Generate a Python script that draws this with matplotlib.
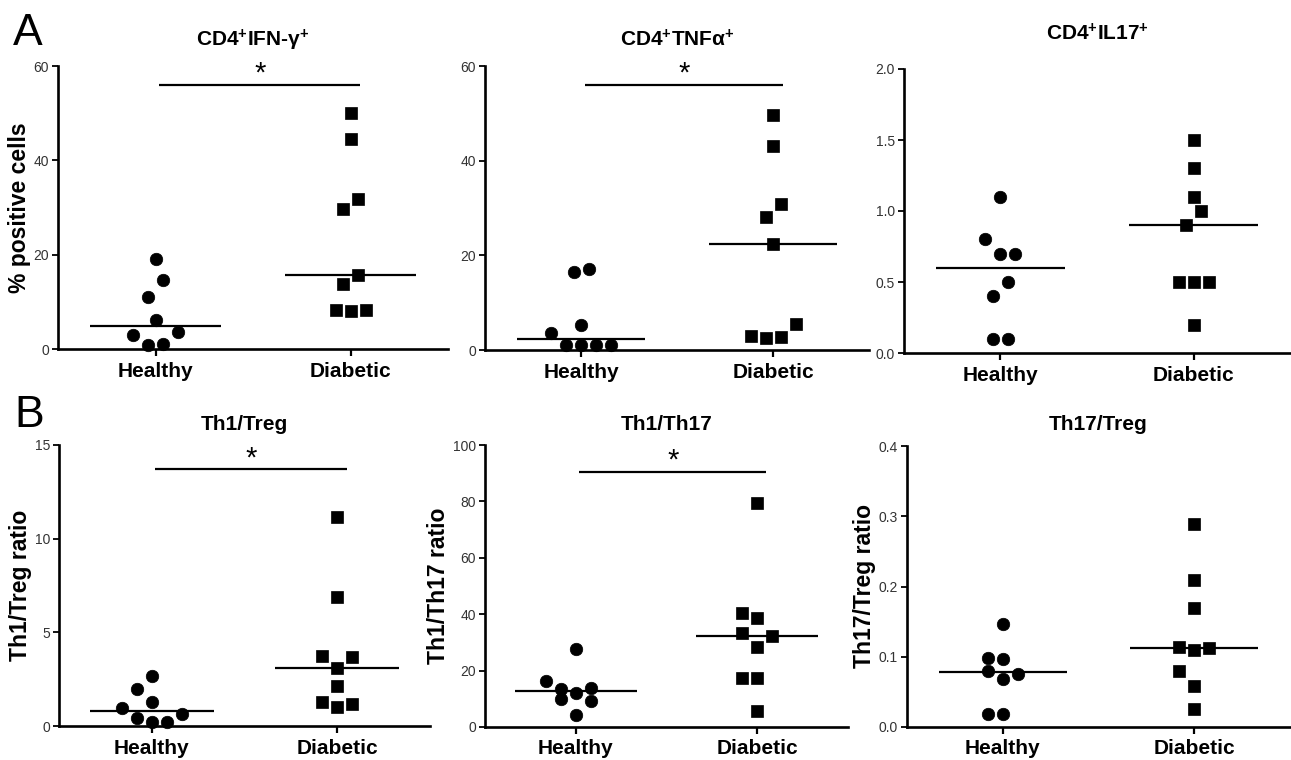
import numpy as np
import matplotlib
matplotlib.use("Agg")
import matplotlib.pyplot as plt

plt.rcParams['font.family'] = ['Liberation Sans', 'DejaVu Sans']
plt.rcParams['mathtext.fontset'] = 'custom'
plt.rcParams['mathtext.rm'] = 'Liberation Sans'
plt.rcParams['mathtext.bf'] = 'Liberation Sans:bold'
plt.rcParams['mathtext.it'] = 'Liberation Sans:italic'

# ---------------- data ----------------
groups = ["Healthy", "Diabetic"]

ifng_healthy = [19.1, 14.7, 11.1, 6.2, 3.0, 3.5, 0.9, 1.1]
ifng_diabetic = [50.1, 44.6, 31.9, 29.6, 15.7, 13.8, 8.3, 8.0, 8.3]

tnf_healthy = [17.2, 16.5, 5.3, 3.5, 1.0, 1.0, 1.0, 1.0]
tnf_diabetic = [49.6, 43.2, 30.9, 28.0, 22.5, 5.4, 3.0, 2.5, 2.8]

il17_healthy = [1.1, 0.8, 0.7, 0.7, 0.5, 0.4, 0.1, 0.1]
il17_diabetic = [1.5, 1.3, 1.1, 1.0, 0.9, 0.5, 0.5, 0.5, 0.2]

th1treg_healthy = [2.69, 1.96, 1.26, 0.98, 0.62, 0.41, 0.2, 0.2]
th1treg_diabetic = [11.14, 6.87, 3.74, 3.67, 3.08, 2.14, 1.30, 1.17, 1.0]

th1th17_healthy = [27.8, 16.3, 14.0, 13.6, 12.1, 9.8, 9.2, 4.4]
th1th17_diabetic = [79.6, 40.6, 38.8, 33.5, 32.2, 28.4, 17.4, 17.4, 5.6]

th17treg_healthy = [0.147, 0.098, 0.097, 0.080, 0.076, 0.069, 0.019, 0.019]
th17treg_diabetic = [0.289, 0.209, 0.169, 0.114, 0.113, 0.110, 0.080, 0.059, 0.026]

titles = ['CD4$^{\\mathbf{+}}$IFN-γ$^{\\mathbf{+}}$',
          'CD4$^{\\mathbf{+}}$TNFα$^{\\mathbf{+}}$',
          'CD4$^{\\mathbf{+}}$IL17$^{\\mathbf{+}}$',
          'Th1/Treg', 'Th1/Th17', 'Th17/Treg']
ylabels = ['% positive cells', None, None,
           'Th1/Treg ratio', 'Th1/Th17 ratio', 'Th17/Treg ratio']
yticks = [[0, 20, 40, 60], [0, 20, 40, 60], [0.0, 0.5, 1.0, 1.5, 2.0],
          [0, 5, 10, 15], [0, 20, 40, 60, 80, 100], [0.0, 0.1, 0.2, 0.3, 0.4]]
ytick_fmt = ['{:.0f}', '{:.0f}', '{:.1f}', '{:.0f}', '{:.0f}', '{:.1f}']
significance = [56, 56, None, 13.7, 90.5, None]   # height of "*" bar

series = [(ifng_healthy, ifng_diabetic), (tnf_healthy, tnf_diabetic),
          (il17_healthy, il17_diabetic), (th1treg_healthy, th1treg_diabetic),
          (th1th17_healthy, th1th17_diabetic), (th17treg_healthy, th17treg_diabetic)]

# ---------------- layout (pixels: left, top, right, bottom) ----------------
W, H = 1291, 760
rects_px = [(58, 66, 448, 349), (485, 66, 869, 350), (904, 69, 1290, 353),
            (59, 445, 430, 726), (485, 445, 848, 727), (907, 446, 1290, 727)]
title_base_px = [46, 46, 40, 430, 430, 430]
even_style = ['half', 'half', 'half', 'full', 'full', 'full']

fig = plt.figure(figsize=(W / 100, H / 100), dpi=100)
fig.patch.set_facecolor('white')

ROW_FRAC = 0.0615   # vertical closeness (fraction of y-span) that puts points in one row
SLOT_PX = 15.0      # horizontal spacing between neighbouring points


def swarm_offsets(vals, yspan, slot, style):
    vals = np.asarray(vals, float)
    order = np.argsort(vals, kind='stable')
    rows, cur = [], []
    for i in order:
        if cur and vals[i] - vals[cur[0]] >= ROW_FRAC * yspan:
            rows.append(cur)
            cur = []
        cur.append(i)
    if cur:
        rows.append(cur)
    offs = np.zeros(len(vals))
    for row in rows:
        n = len(row)
        if n % 2 == 1:
            pattern = [0, 1, -1, 2, -2, 3, -3, 4, -4]
        elif style == 'half':
            pattern = [-0.5, 0.5, -1.5, 1.5, -2.5, 2.5, -3.5, 3.5]
        else:
            pattern = [0, -1, 1, -2, 2, -3, 3, -4]
        for k, i in enumerate(row):
            offs[i] = pattern[k] * slot
    return offs


markers = ['o', 's']
for p in range(6):
    l, t, r, b = rects_px[p]
    ax = fig.add_axes([l / W, 1 - b / H, (r - l) / W, (b - t) / H])
    ymax = yticks[p][-1]
    ax.set_xlim(-0.5, 1.5)
    ax.set_ylim(0, ymax)
    px_per_unit = (r - l) / 2.0
    slot = SLOT_PX / px_per_unit
    for g, vals in enumerate(series[p]):
        offs = swarm_offsets(vals, ymax, slot, even_style[p])
        ax.plot(g + offs, vals, linestyle='none', marker=markers[g], ms=9,
                color='black', mec='black', mew=0.5, clip_on=False, zorder=3)
        med = np.median(vals)
        ax.hlines(med, g - 0.335, g + 0.335, color='black', lw=1.6, zorder=4)
    if significance[p] is not None:
        ax.hlines(significance[p], 0.02, 1.05, color='black', lw=1.6, clip_on=False)
        ax.annotate('*', xy=(0.535, significance[p]), xytext=(0, 8),
                    textcoords='offset points', ha='center', va='center',
                    fontsize=21, annotation_clip=False)
    for s in ['top', 'right']:
        ax.spines[s].set_visible(False)
    for s in ['left', 'bottom']:
        ax.spines[s].set_linewidth(1.9)
    ax.set_xticks([0, 1])
    ax.set_xticklabels(groups, fontweight='bold')
    ax.set_yticks(yticks[p])
    ax.set_yticklabels([ytick_fmt[p].format(v) for v in yticks[p]])
    ax.tick_params(axis='y', direction='out', length=4, width=1.3, pad=2.5,
                   labelsize=10, labelcolor='#333333')
    ax.tick_params(axis='x', direction='out', length=5, width=1.6, pad=4,
                   labelsize=15)
    if ylabels[p]:
        ax.set_ylabel(ylabels[p], fontsize=16.5, fontweight='bold', labelpad=2)
    fig.text((l + r) / 2 / W, 1 - title_base_px[p] / H, titles[p], ha='center',
             va='baseline', fontsize=15, fontweight='bold')

fig.text(13 / W, 1 - 45 / H, 'A', fontsize=32, va='baseline', ha='left')
fig.text(14 / W, 1 - 427 / H, 'B', fontsize=32, va='baseline', ha='left')

fig.savefig('out.png', dpi=100, facecolor='white')
